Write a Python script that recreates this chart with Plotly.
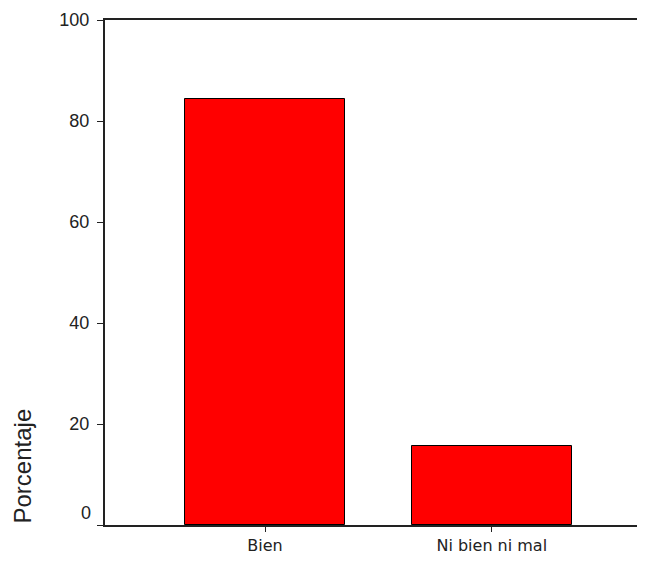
import plotly.graph_objects as go

categories = ["Bien", "Ni bien ni mal"]
percentages = [84.4, 15.6]
y_tick_vals = [0, 20, 40, 60, 80, 100]
y_tick_text = ["", "20", "40", "60", "80", "100"]

fig = go.Figure()
fig.add_trace(go.Bar(
    x=categories, y=percentages,
    width=0.705,
    marker=dict(color="#FF0000", line=dict(color="#000000", width=1)),
))

fig.add_annotation(x=0, xref="paper", y=0, yref="y", text="0",
                   showarrow=False, xanchor="right", xshift=-12, yshift=12,
                   font=dict(family="Liberation Sans, Arial", size=18, color="#222222"))
fig.add_annotation(x=0, xref="paper", y=0, yref="paper", text="Porcentaje",
                   showarrow=False, textangle=-90, xanchor="center", yanchor="bottom",
                   xshift=-83, yshift=-1,
                   font=dict(family="Liberation Sans, Arial", size=24, color="#222222"))

fig.update_layout(
    width=637, height=549,
    margin=dict(l=97, r=2, t=7, b=28),
    paper_bgcolor="white", plot_bgcolor="white",
    showlegend=False,
    bargap=0,
    xaxis=dict(
        range=[-0.706, 1.667], showgrid=False, zeroline=False,
        showline=True, linecolor="#222222", linewidth=2, mirror=True,
        ticks="outside", ticklen=5, tickwidth=1, tickcolor="#222222",
        tickfont=dict(family="DejaVu Sans", size=16, color="#222222"),
        ticklabeloverflow="allow",
    ),
    yaxis=dict(
        range=[0, 100], showgrid=False, zeroline=False,
        showline=True, linecolor="#222222", linewidth=2,
        ticks="outside", ticklen=6, tickwidth=1, tickcolor="#222222",
        tickvals=y_tick_vals, ticktext=y_tick_text,
        tickfont=dict(family="Liberation Sans, Arial", size=18, color="#222222"),
        ticklabelstandoff=4, ticklabeloverflow="allow",
    ),
)

fig.write_html("out.html")
